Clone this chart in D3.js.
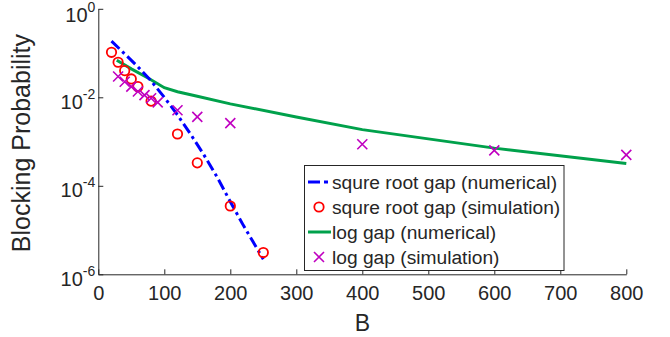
<!DOCTYPE html>
<html><head><meta charset="utf-8">
<script src="https://cdn.jsdelivr.net/npm/d3@7"></script>
<style>
body{margin:0;background:#fff}
svg{display:block}
text{font-family:"Liberation Sans",Arial,Helvetica,sans-serif;fill:#262626}
</style>
</head><body>
<svg id="c" width="670" height="337"></svg>
<script>
// ---- data ----
const sqrtNumB = [20, 40, 60, 80, 100, 120, 140, 160, 180, 200, 220, 250];
const sqrtNumP = [0.186, 0.0955, 0.049, 0.0234, 0.010, 0.0040, 0.00145, 0.0005, 0.000158, 0.0000437, 0.0000126, 0.0000022];
const sqrtSimB = [20, 30, 40, 50, 60, 80, 120, 150, 200, 250];
const sqrtSimP = [0.104, 0.062, 0.040, 0.026, 0.0175, 0.0082, 0.00148, 0.00033, 0.000035, 0.0000031];
const logNumB = [28, 50, 76, 100, 120, 150, 200, 300, 400, 600, 800];
const logNumP = [0.069, 0.044, 0.027, 0.0165, 0.0134, 0.0106, 0.0071, 0.0036, 0.00186, 0.00071, 0.00032];
const logSimB = [30, 40, 50, 60, 70, 80, 90, 120, 150, 200, 400, 600, 800];
const logSimP = [0.0295, 0.0224, 0.0174, 0.0135, 0.0112, 0.0095, 0.0077, 0.0051, 0.0036, 0.0026, 0.00087, 0.00063, 0.0005];
const xTicks = [0, 100, 200, 300, 400, 500, 600, 700, 800];
const yTicks = [1, 1e-2, 1e-4, 1e-6];
const yTickExp = ["0", "-2", "-4", "-6"];
const legendLabels = ["squre root gap (numerical)", "squre root gap (simulation)", "log gap (numerical)", "log gap (simulation)"];
const xLabel = "B", yLabel = "Blocking Probability";

// ---- layout ----
const L = 98.3, R = 626.3, T = 8.8, B = 274.3;
const cBlue = "#0000ff", cRed = "#ff0000", cGreen = "#00a14b", cMag = "#c000c0";
const svg = d3.select("#c");
const x = d3.scaleLinear().domain([0, 800]).range([L, R]);
const y = d3.scaleLog().domain([1e-6, 1]).range([B, T]);

// axes
const xa = svg.append("g").attr("transform", `translate(0,${B})`)
  .call(d3.axisBottom(x).tickValues(xTicks).tickSizeInner(-5).tickSizeOuter(0).tickPadding(12).tickFormat(d3.format("d")));
xa.selectAll("text").attr("font-size", 20).attr("fill", "#262626").attr("font-family", '"Liberation Sans",Arial,sans-serif');
xa.selectAll("line,path").attr("stroke", "#262626");

const ya = svg.append("g").attr("transform", `translate(${L},0)`)
  .call(d3.axisLeft(y).tickValues(yTicks).tickSizeInner(-5).tickSizeOuter(0).tickFormat(() => ""));
ya.selectAll("line,path").attr("stroke", "#262626");
ya.selectAll(".tick text").remove();
ya.selectAll(".tick").each(function(d, i) {
  const t = d3.select(this).append("text")
    .attr("x", -3).attr("y", i === 0 ? 13 : 11).attr("text-anchor", "end")
    .attr("font-family", '"Liberation Sans",Arial,sans-serif').attr("fill", "#262626");
  t.append("tspan").attr("font-size", 20).text("10");
  t.append("tspan").attr("font-size", 14).attr("dy", -10).text(yTickExp[i]);
});

// axis labels
svg.append("text").attr("x", (L + R) / 2).attr("y", 331).attr("text-anchor", "middle")
  .attr("font-size", 23).text(xLabel);
svg.append("text").attr("transform", `translate(30,${(T + B) / 2 + 1.5}) rotate(-90)`).attr("text-anchor", "middle")
  .attr("font-size", 25).text(yLabel);

// lines
const line = d3.line().x(d => x(d[0])).y(d => y(d[1]));
svg.append("path").datum(logNumB.map((b, i) => [b, logNumP[i]]))
  .attr("d", line).attr("fill", "none").attr("stroke", cGreen).attr("stroke-width", 3);
svg.append("path").datum(sqrtNumB.map((b, i) => [b, sqrtNumP[i]]))
  .attr("d", line).attr("fill", "none").attr("stroke", cBlue).attr("stroke-width", 3)
  .attr("stroke-dasharray", "11,4,3,4");

// markers
svg.append("g").selectAll("circle").data(sqrtSimB.map((b, i) => [b, sqrtSimP[i]])).join("circle")
  .attr("cx", d => x(d[0])).attr("cy", d => y(d[1])).attr("r", 4.7)
  .attr("fill", "none").attr("stroke", cRed).attr("stroke-width", 1.8);
const cross = (g, cx, cy, s) => g.append("path")
  .attr("d", `M${cx - s},${cy - s}L${cx + s},${cy + s}M${cx - s},${cy + s}L${cx + s},${cy - s}`)
  .attr("stroke", cMag).attr("stroke-width", 1.6).attr("fill", "none");
const cg = svg.append("g");
logSimB.forEach((b, i) => cross(cg, x(b), y(logSimP[i]), 5));

// legend
const lg = svg.append("g");
lg.append("rect").attr("x", 304.5).attr("y", 165.5).attr("width", 259.5).attr("height", 105)
  .attr("fill", "#fff").attr("stroke", "#262626").attr("stroke-width", 1);
const rowY = [182, 207, 232, 257];
lg.append("line").attr("x1", 308).attr("x2", 330).attr("y1", rowY[0]).attr("y2", rowY[0])
  .attr("stroke", cBlue).attr("stroke-width", 3).attr("stroke-dasharray", "12,4,4,4");
lg.append("circle").attr("cx", 319).attr("cy", rowY[1]).attr("r", 4.7)
  .attr("fill", "none").attr("stroke", cRed).attr("stroke-width", 1.8);
lg.append("line").attr("x1", 308).attr("x2", 331).attr("y1", rowY[2]).attr("y2", rowY[2])
  .attr("stroke", cGreen).attr("stroke-width", 3);
cross(lg, 319, rowY[3], 5);
legendLabels.forEach((s, i) => lg.append("text").attr("x", 332).attr("y", rowY[i]).attr("dy", "0.35em")
  .attr("font-size", 19.2).text(s));
</script>
</body></html>
